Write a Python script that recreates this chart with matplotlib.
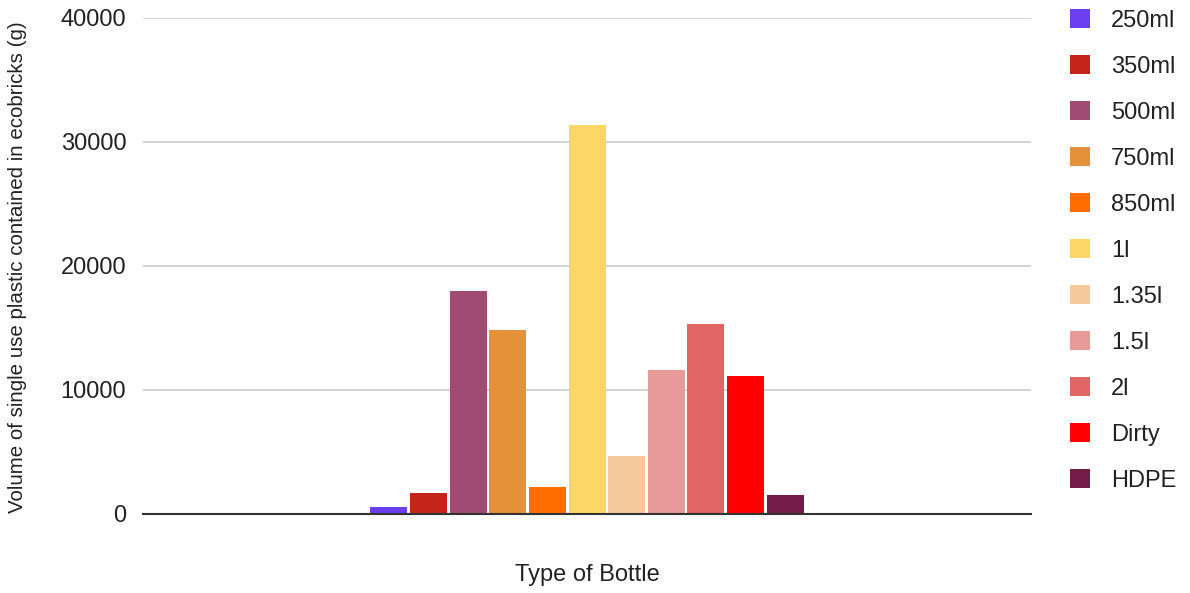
import matplotlib
matplotlib.use("Agg")
import matplotlib.pyplot as plt

categories = ["250ml", "350ml", "500ml", "750ml", "850ml", "1l", "1.35l", "1.5l", "2l", "Dirty", "HDPE"]
values = [550, 1700, 18000, 14800, 2200, 31400, 4700, 11600, 15300, 11100, 1530]
colors = ["#6b3ff0", "#c5241a", "#a04a74", "#e59139", "#ff6d00", "#fcd767",
          "#f6c89b", "#e79a98", "#e06666", "#ff0000", "#741b47"]
yticks = [0, 10000, 20000, 30000, 40000]

plt.rcParams['font.family'] = ['Liberation Sans', 'DejaVu Sans']

fig = plt.figure(figsize=(11.9, 5.93), dpi=100)
ax = fig.add_axes([143/1190, (593-514)/593, (1031-143)/1190, (514-18)/593])

n = len(categories)
slot = 436/888/n
width = 37/888
handles = []
for i, (c, v, col) in enumerate(zip(categories, values, colors)):
    x = -slot*n/2 + slot*(i+0.5)
    b = ax.bar(x, v, width=width, color=col, label=c, zorder=3)
    handles.append(b)

ax.set_xlim(-0.5, 0.5)
ax.set_ylim(0, 40000)
ax.set_yticks(yticks)
ax.set_yticklabels([str(t) for t in yticks], fontsize=17, color="#222222")
ax.set_xticks([])
ax.tick_params(axis='y', length=0, pad=12)
ax.grid(axis='y', color="#cccccc", linewidth=1.2, zorder=0)
for s in ["top", "right", "left"]:
    ax.spines[s].set_visible(False)
ax.spines["bottom"].set_color("#333333")
ax.spines["bottom"].set_linewidth(1.5)
ax.spines["bottom"].set_zorder(4)

fig.text(18/1190, 1-267/593, "Volume of single use plastic contained in ecobricks (g)",
         rotation=90, ha='center', va='center', fontsize=14.8, color="#222222")
fig.text(587/1190, 1-575/593, "Type of Bottle", ha='center', va='center',
         fontsize=17, color="#222222")

leg = fig.legend(handles=handles, labels=categories, loc='upper left',
                 bbox_to_anchor=(1049/1190, 1+12/593), frameon=False,
                 fontsize=17, handlelength=0.82, handleheight=0.82,
                 handletextpad=0.9, labelspacing=1.0, labelcolor="#222222")

fig.savefig("out.png", dpi=100)
